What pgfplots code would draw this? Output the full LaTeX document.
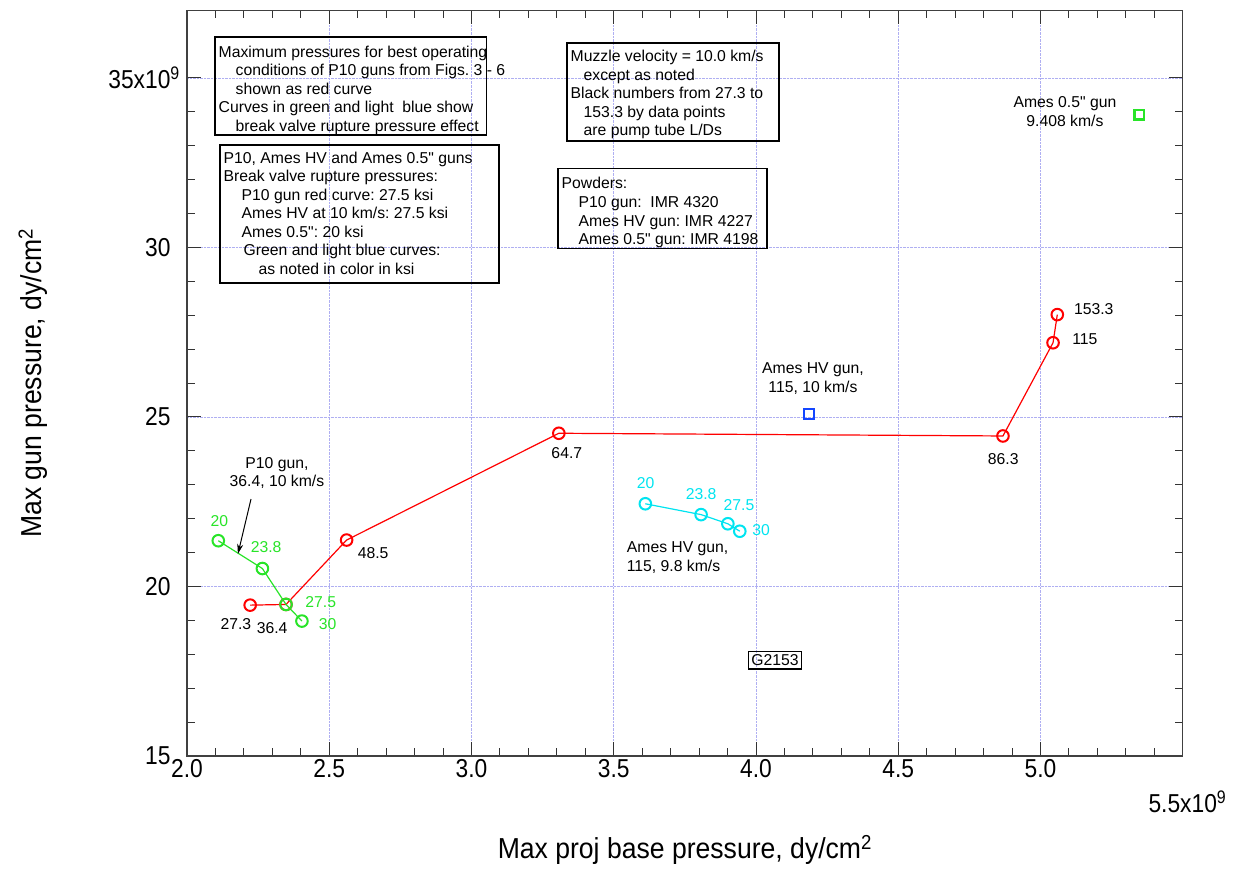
\documentclass[border=0pt]{standalone}
\usepackage{fontspec}
\setmainfont{Liberation Sans}
\newfontfamily\qfont{Liberation Sans}
\newfontfamily\tickfont{Liberation Sans}[FakeStretch=0.88]
\newfontfamily\labfont{Liberation Sans}[FakeStretch=0.92]
\usepackage{pgfplots}
\pgfplotsset{compat=1.18}
\usetikzlibrary{arrows.meta}
\definecolor{pred}{RGB}{255,0,0}
\definecolor{pgreen}{RGB}{40,228,40}
\definecolor{pcyan}{RGB}{0,228,240}
\definecolor{pblue}{RGB}{20,70,255}
\definecolor{gridc}{RGB}{175,175,242}
\newcommand{\bx}{\fontsize{15.8}{18.6}\selectfont}
\newcommand{\ind}[1]{\hspace*{#1bp}}
\newcommand{\dq}{{\qfont\char34}}
\frenchspacing
\begin{document}
\begin{tikzpicture}[x=1bp,y=1bp]
\useasboundingbox (0,0) rectangle (1244,869);
\begin{axis}[
  at={(187bp,113bp)}, anchor=south west,
  scale only axis, width=995.75bp, height=745.8bp,
  xmin=2, xmax=5.5, ymin=15, ymax=37,
  clip=false,
  xtick={2,2.5,3,3.5,4,4.5,5,5.5},
  xticklabels={2.0,2.5,3.0,3.5,4.0,4.5,5.0,},
  ytick={15,20,25,30,35},
  yticklabels={15,20,25,30,{35x10\rlap{\textsuperscript{9}}}},
  minor x tick num=4, minor y tick num=4,
  tick align=inside, major tick length=14bp, minor tick length=8bp,
  tick style={line width=1bp, black!80},
  grid=major, major grid style={densely dotted, gridc, line width=0.8bp},
  axis line style={line width=1.3bp, black!75},
  ticklabel style={font=\tickfont\fontsize{26}{30}\selectfont},
  yticklabel style={xshift=-13bp},
  /pgf/number format/assume math mode=true,
]
% red curve: P10 gun
\addplot[pred, line width=1.2bp, mark=o, mark size=5.8bp, mark options={line width=2bp, solid}]
  coordinates {(2.222,19.45) (2.348,19.47) (2.561,21.37) (3.307,24.52) (4.868,24.44) (5.044,27.19) (5.059,28.02)};
% green curve
\addplot[pgreen, line width=1.2bp, mark=o, mark size=5.8bp, mark options={line width=2bp, solid}]
  coordinates {(2.110,21.35) (2.265,20.53) (2.348,19.47) (2.404,18.98)};
% cyan curve
\addplot[pcyan, line width=1.2bp, mark=o, mark size=5.8bp, mark options={line width=2bp, solid}]
  coordinates {(3.611,22.44) (3.807,22.12) (3.901,21.85) (3.943,21.63)};
% single points
\addplot[only marks, pblue, mark=square, mark size=4.8bp, mark options={line width=2.4bp}]
  coordinates {(4.186,25.09)};
\addplot[only marks, pgreen, mark=square, mark size=4.8bp, mark options={line width=2.4bp}]
  coordinates {(5.347,33.92)};

\begin{scope}[every node/.style={font=\bx}]
% black L/D labels
\node at (axis cs:2.172,18.89) {27.3};
\node at (axis cs:2.299,18.78) {36.4};
\node at (axis cs:2.654,20.99) {48.5};
\node at (axis cs:3.335,23.93) {64.7};
\node at (axis cs:4.869,23.76) {86.3};
\node at (axis cs:5.156,27.29) {115};
\node at (axis cs:5.187,28.18) {153.3};
% green labels
\node[pgreen] at (axis cs:2.1137,21.93) {20};
\node[pgreen] at (axis cs:2.278,21.16) {23.8};
\node[pgreen] at (axis cs:2.470,19.55) {27.5};
\node[pgreen] at (axis cs:2.4945,18.89) {30};
% cyan labels
\node[pcyan] at (axis cs:3.612,23.04) {20};
\node[pcyan] at (axis cs:3.807,22.72) {23.8};
\node[pcyan] at (axis cs:3.940,22.40) {27.5};
\node[pcyan] at (axis cs:4.0176,21.65) {30};
% annotations
\node[align=center] at (axis cs:2.316,23.35) {P10 gun,\\36.4, 10 km/s};
\node[align=center] at (axis cs:4.200,26.14) {Ames HV gun,\\115, 10 km/s};
\node[align=left, anchor=west, inner sep=0pt] at (axis cs:3.5455,20.855) {Ames HV gun,\\115, 9.8 km/s};
\node[align=center] at (axis cs:5.086,34.01) {Ames 0.5\dq{} gun\\9.408 km/s};
\node[draw, line width=1.3bp, inner sep=3bp] at (axis cs:4.067,17.82) {G2153};
% boxes (frames)
\draw[line width=1.3bp] (axis cs:2.0984,36.21) rectangle (axis cs:3.0527,33.32);
\draw[line width=1.3bp] (axis cs:2.116,33.02) rectangle (axis cs:3.0967,28.95);
\draw[line width=1.3bp] (axis cs:3.3357,36.03) rectangle (axis cs:4.0808,33.14);
\draw[line width=1.3bp] (axis cs:3.304,32.32) rectangle (axis cs:4.0387,29.96);
% box texts
\node[anchor=north west, align=left, inner xsep=3.5bp, inner ysep=8.5bp] at (axis cs:2.0984,36.21)
  {Maximum pressures for best operating\\
   \ind{17}conditions of P10 guns from Figs.\ 3 - 6\\
   \ind{17}shown as red curve\\
   Curves in green and light\ \ blue show\\
   \ind{17}break valve rupture pressure effect};
\node[anchor=north west, align=left, inner xsep=3.5bp, inner ysep=6.5bp] at (axis cs:2.116,33.02)
  {P10, Ames HV and Ames 0.5\dq{} guns\\
   Break valve rupture pressures:\\
   \ind{18}P10 gun red curve: 27.5 ksi\\
   \ind{18}Ames HV at 10 km/s: 27.5 ksi\\
   \ind{18}Ames 0.5\dq: 20 ksi\\
   \ind{20}Green and light blue curves:\\
   \ind{35}as noted in color in ksi};
\node[anchor=north west, align=left, inner xsep=3.5bp, inner ysep=7bp] at (axis cs:3.3357,36.03)
  {Muzzle velocity = 10.0 km/s\\
   \ind{13}except as noted\\
   Black numbers from 27.3 to\\
   \ind{13}153.3 by data points\\
   \ind{13}are pump tube L/Ds};
\node[anchor=north west, align=left, inner xsep=3.5bp, inner ysep=8.5bp] at (axis cs:3.304,32.32)
  {Powders:\\
   \ind{17}P10 gun:\ \ IMR 4320\\
   \ind{17}Ames HV gun: IMR 4227\\
   \ind{17}Ames 0.5\dq{} gun: IMR 4198};
\end{scope}
\draw[black, line width=1bp, -{Stealth[length=10bp,width=6bp]}] (axis cs:2.225,22.58) -- (axis cs:2.179,20.96);
% last x tick label
\node[font=\tickfont\fontsize{26}{30}\selectfont] at (axis cs:5.5,15) [yshift=-46bp] {5.5x10\rlap{\textsuperscript{9}}};
% axis labels
\node[font=\labfont\fontsize{29}{34}\selectfont] at (rel axis cs:0.5,0) [yshift=-94bp] {Max proj base pressure, dy/cm\textsuperscript{2}};
\node[font=\labfont\fontsize{29}{34}\selectfont, rotate=90] at (rel axis cs:-0.1547,0.5) {Max gun pressure, dy/cm\textsuperscript{2}};
\end{axis}
\end{tikzpicture}
\end{document}
